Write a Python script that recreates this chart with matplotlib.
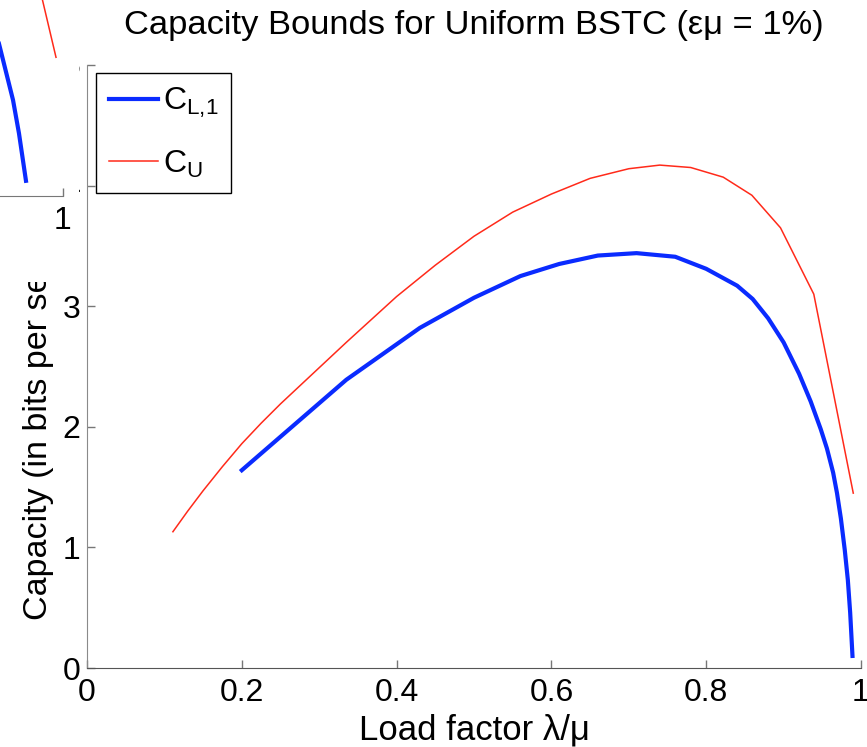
import matplotlib
matplotlib.use('Agg')
import matplotlib.pyplot as plt
from matplotlib.patches import Rectangle

plt.rcParams['font.family'] = ['Liberation Sans', 'DejaVu Sans']
plt.rcParams['mathtext.fontset'] = 'custom'
plt.rcParams['mathtext.rm'] = 'Liberation Sans'
plt.rcParams['mathtext.it'] = 'Liberation Sans'

# lower bound C_L,1 (thick blue)
cl_x = [0.20, 0.335, 0.43, 0.50, 0.56, 0.61, 0.66, 0.71, 0.76, 0.80,
        0.84, 0.86, 0.88, 0.90, 0.92, 0.935, 0.948, 0.956, 0.964, 0.969,
        0.974, 0.979, 0.983, 0.986, 0.989]
cl_y = [1.64, 2.39, 2.82, 3.07, 3.25, 3.35, 3.42, 3.44, 3.41, 3.31,
        3.17, 3.06, 2.90, 2.70, 2.44, 2.21, 1.98, 1.82, 1.62, 1.45,
        1.24, 0.98, 0.73, 0.46, 0.10]

# upper bound C_U (thin red)
cu_x = [0.111, 0.13, 0.15, 0.175, 0.20, 0.225, 0.25, 0.275, 0.30, 0.335,
        0.40, 0.45, 0.50, 0.55, 0.60, 0.65, 0.70, 0.74, 0.78, 0.822,
        0.859, 0.896, 0.939, 0.99]
cu_y = [1.13, 1.30, 1.47, 1.67, 1.86, 2.03, 2.19, 2.34, 2.49, 2.70,
        3.08, 3.34, 3.58, 3.78, 3.93, 4.06, 4.14, 4.17, 4.15, 4.07,
        3.92, 3.65, 3.10, 1.45]

# stray fragment of another rendering pasted in the top left corner
ghost_cl_x = [0.893, 0.910, 0.9286, 0.9371, 0.9471]
ghost_cl_y = [2.06, 1.56, 1.01, 0.66, 0.16]
ghost_cu_x = [0.957, 0.990]
ghost_cu_y = [2.49, 1.46]

x_ticks = [0, 0.2, 0.4, 0.6, 0.8, 1]
x_tick_labels = ['0', '0.2', '0.4', '0.6', '0.8', '1']
y_ticks = [0, 1, 2, 3, 4, 5]

W, H = 867, 747
FS = 23
BLUE = '#0a2bff'
RED = '#ff2a1a'

fig = plt.figure(figsize=(W / 100, H / 100), dpi=100)
ax = fig.add_axes([87 / W, (H - 668) / H, 774 / W, 603 / H])

ax.plot(cl_x, cl_y, color=BLUE, lw=3.0, label=r'$\mathregular{C_{L{,}1}}$')
ax.plot(cu_x, cu_y, color=RED, lw=1.1, label=r'$\mathregular{C_{U}}$')

ax.set_xlim(0, 1)
ax.set_ylim(0, 5)
ax.set_xticks(x_ticks)
ax.set_xticklabels(x_tick_labels)
ax.set_yticks(y_ticks)
ax.spines['top'].set_visible(False)
ax.spines['right'].set_visible(False)
ax.spines['left'].set_color('#8a8a8a')
ax.spines['bottom'].set_color('#555555')
ax.tick_params(direction='in', length=6, width=1, colors='#777777',
               labelcolor='black', labelsize=FS)
ax.tick_params(axis='x', pad=7)
ax.tick_params(axis='y', pad=5)

ax.set_title('Capacity Bounds for Uniform BSTC (εμ = 1%)', fontsize=24.8, pad=22)
ax.set_xlabel('Load factor λ/μ', fontsize=25, labelpad=4)
ax.set_ylabel('Capacity (in bits per second)', fontsize=24.5, loc='bottom')
ax.yaxis.set_label_coords(-0.042, 0.08)

leg = ax.legend(loc='upper left', bbox_to_anchor=(0.0116, 0.987),
                borderaxespad=0, fancybox=False, framealpha=1,
                edgecolor='black', fontsize=FS, handlelength=1.55,
                handletextpad=0.15, borderpad=0.4, labelspacing=0.9)
leg.get_frame().set_linewidth(1.0)

# white patch hiding part of the y label and the 4/5 tick labels
fig.patches.append(Rectangle((0, (H - 282) / H), 79 / W, 282 / H,
                             transform=fig.transFigure, facecolor='white',
                             edgecolor='none', zorder=1))

# ghost copy of the lower right corner
gax = fig.add_axes([-137 / W, (H - 196) / H, 200 / W, 300 / H], zorder=2)
gax.plot(ghost_cl_x, ghost_cl_y, color=BLUE, lw=3.0)
gax.plot(ghost_cu_x, ghost_cu_y, color=RED, lw=1.1)
gax.set_xlim(1 - 200 / 700, 1)
gax.set_ylim(0, 300 / 95)
gax.set_xticks([1])
gax.set_xticklabels(['1'])
gax.set_yticks([])
for s in ['top', 'right', 'left']:
    gax.spines[s].set_visible(False)
gax.spines['bottom'].set_color('#777777')
gax.tick_params(direction='in', length=6, width=1, colors='#777777',
                labelcolor='black', labelsize=FS, pad=7)
gax.set_facecolor('white')

fig.savefig('out.png', dpi=100)
